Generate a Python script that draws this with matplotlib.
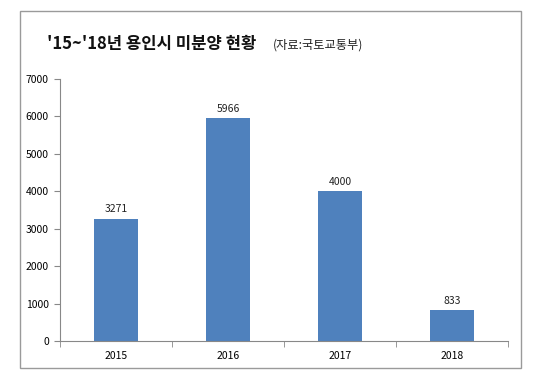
import matplotlib
matplotlib.use("Agg")
import matplotlib.pyplot as plt
from matplotlib.patches import Rectangle

plt.rcParams['font.family'] = ['Noto Sans CJK KR', 'DejaVu Sans']

years = ['2015', '2016', '2017', '2018']
values = [3271, 5966, 4000, 833]
yticks = [0, 1000, 2000, 3000, 4000, 5000, 6000, 7000]

W, H = 549, 378
fig = plt.figure(figsize=(W/100, H/100), dpi=100)
fig.patch.set_facecolor('white')

# outer frame
fig.patches.append(Rectangle((20/W, 1-368/H), (521-20)/W, (368-11)/H,
                             transform=fig.transFigure, fill=False,
                             edgecolor='#9a9a9a', linewidth=1.0))

ax = fig.add_axes([60/W, 1-341/H, (508-60)/W, (341-79)/H])
x = range(len(years))
ax.bar(x, values, width=0.4, color='#4F81BD')
for i, v in zip(x, values):
    ax.text(i, v + 110, str(v), ha='center', va='bottom', fontsize=7.5, color='#222222')

ax.set_xlim(-0.5, 3.5)
ax.set_ylim(0, 7000)
ax.set_yticks(yticks)
ax.set_yticklabels([str(t) for t in yticks])
ax.set_xticks(list(x))
ax.set_xticklabels(years)
ax.set_xticks([-0.5, 0.5, 1.5, 2.5, 3.5], minor=True)
ax.tick_params(axis='x', which='major', length=0, pad=7, labelsize=7.5)
ax.tick_params(axis='x', which='minor', length=4, color='#888888', direction='out')
ax.tick_params(axis='y', length=4, color='#888888', direction='out', pad=4, labelsize=7.5)

for s in ['top', 'right']:
    ax.spines[s].set_visible(False)
ax.spines['left'].set_color('#888888')
ax.spines['bottom'].set_color('#888888')

fig.text(47/W, 1-44/H, "'15~'18년 용인시 미분양 현황", fontsize=12, fontweight='bold',
         ha='left', va='center', color='#111111')
fig.text(273/W, 1-45/H, "(자료:국토교통부)", fontsize=8.8, ha='left', va='center', color='#222222')

fig.savefig('out.png', dpi=100)
